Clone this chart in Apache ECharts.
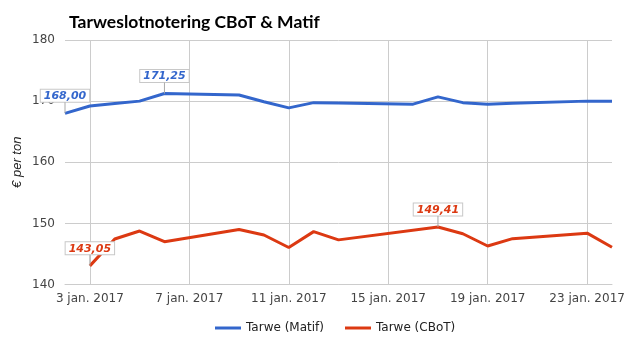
<!DOCTYPE html>
<html><head><meta charset="utf-8">
<script src="https://cdn.jsdelivr.net/npm/echarts@6/dist/echarts.min.js"></script>
<style>html,body{margin:0;padding:0;background:#fff}#c{width:625px;height:355px}</style>
</head><body><div id="c"></div>
<script>
const titleText = 'Tarweslotnotering CBoT & Matif';
const yAxisName = '€ per ton';
const dates = ['2017-01-02','2017-01-03','2017-01-04','2017-01-05','2017-01-06','2017-01-09','2017-01-10','2017-01-11','2017-01-12','2017-01-13','2017-01-16','2017-01-17','2017-01-18','2017-01-19','2017-01-20','2017-01-23','2017-01-24'];
const matif = [168.00,169.2,169.6,170.0,171.25,171.0,169.9,168.9,169.75,169.7,169.5,170.7,169.75,169.5,169.65,170.0,170.0];
const cbot  = [null,143.05,147.45,148.75,147.0,149.0,148.1,146.05,148.65,147.3,null,149.41,148.3,146.3,147.5,148.4,146.1];
const matifLabelled = ['2017-01-02','2017-01-06'];
const cbotLabelled = ['2017-01-03','2017-01-17'];
const xTickDates = ['2017-01-03','2017-01-07','2017-01-11','2017-01-15','2017-01-19','2017-01-23'];
const xMin = '2017-01-02', xMax = '2017-01-24';
const yMin = 140, yMax = 180, yStep = 10;
const seriesNames = ['Tarwe (Matif)','Tarwe (CBoT)'];
const colors = ['#3366cc','#dc3912'];

const ts = s => { const p = s.split('-').map(Number); return Date.UTC(p[0], p[1]-1, p[2]); };
const fmt = v => v.toFixed(2).replace('.', ',');

function buildData(vals, labelled, color) {
  return dates.map((d, i) => {
    const item = { value: [ts(d), vals[i]] };
    if (vals[i] != null && labelled.indexOf(d) >= 0) {
      item.label = {
        show: true, position: 'top', distance: 0, align: 'center',
        formatter: p => '{box|' + fmt(p.value[1]) + '}\n{stem| }',
        rich: {
          box: {
            color: color, fontFamily: 'DejaVu Sans', fontSize: 11,
            fontStyle: 'italic', fontWeight: 'bold', lineHeight: 13,
            backgroundColor: '#fff', borderColor: '#c8c8c8', borderWidth: 1,
            padding: [1, 3, 0, 3], align: 'center'
          },
          stem: { width: 1, height: 11, lineHeight: 11, fontSize: 1, backgroundColor: '#aaa', align: 'center' }
        }
      };
    }
    return item;
  });
}

const chart = echarts.init(document.getElementById('c'), null, { renderer: 'canvas' });
chart.setOption({
  animation: false,
  color: colors,
  title: {
    text: titleText, left: 64, top: 8,
    textStyle: { fontFamily: 'Lato', fontWeight: 'bold', fontSize: 17.5, color: '#000' }
  },
  legend: {
    bottom: 16, left: 210, icon: 'rect', itemWidth: 26, itemHeight: 3, itemGap: 21,
    textStyle: { fontFamily: 'DejaVu Sans', fontSize: 12, color: '#222' },
    data: seriesNames
  },
  grid: { left: 65, right: 13, top: 40, bottom: 70.5, outerBoundsMode: 'none' },
  xAxis: {
    type: 'value', min: ts(xMin), max: ts(xMax),
    axisLine: { show: true, lineStyle: { color: '#ccc' } },
    axisTick: { show: false, customValues: xTickDates.map(ts) },
    axisLabel: {
      customValues: xTickDates.map(ts),
      formatter: v => new Date(v).getUTCDate() + ' jan. ' + new Date(v).getUTCFullYear(),
      fontFamily: 'DejaVu Sans', fontSize: 12, color: '#444', margin: 8
    },
    splitLine: { show: true, lineStyle: { color: '#ccc' } }
  },
  yAxis: {
    type: 'value', min: yMin, max: yMax, interval: yStep,
    name: yAxisName, nameLocation: 'middle', nameGap: 41, nameMoveOverlap: false,
    nameTextStyle: { fontFamily: 'Liberation Sans', fontStyle: 'italic', fontSize: 13, color: '#222' },
    axisLine: { show: false }, axisTick: { show: false },
    axisLabel: { fontFamily: 'DejaVu Sans', fontSize: 12, color: '#444', margin: 10 },
    splitLine: { lineStyle: { color: '#ccc' } }
  },
  series: [
    { name: seriesNames[0], type: 'line', data: buildData(matif, matifLabelled, colors[0]),
      showSymbol: true, symbol: 'circle', symbolSize: 0, connectNulls: true,
      lineStyle: { width: 3, color: colors[0] }, itemStyle: { color: colors[0] }, z: 3 },
    { name: seriesNames[1], type: 'line', data: buildData(cbot, cbotLabelled, colors[1]),
      showSymbol: true, symbol: 'circle', symbolSize: 0, connectNulls: true,
      lineStyle: { width: 3, color: colors[1] }, itemStyle: { color: colors[1] }, z: 2 }
  ]
});
</script></body></html>
